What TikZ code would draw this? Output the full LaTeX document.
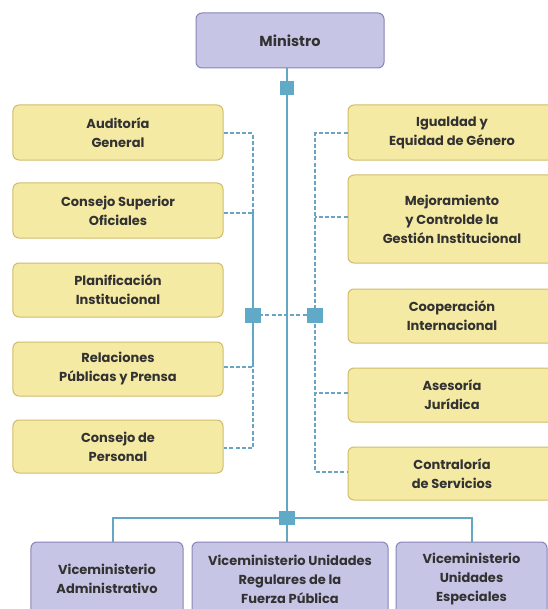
\documentclass[tikz,border=0pt]{standalone}
\usepackage{fontspec}
\newfontfamily\boxfont{Poppins Bold}
\definecolor{yfill}{RGB}{245,234,164}
\definecolor{ybord}{RGB}{208,188,105}
\definecolor{pfill}{RGB}{199,197,229}
\definecolor{pbord}{RGB}{136,131,184}
\definecolor{lnc}{RGB}{98,168,196}
\definecolor{dlnc}{RGB}{105,165,195}
\definecolor{sqc}{RGB}{96,170,200}
\definecolor{txt}{RGB}{50,50,50}
\begin{document}
\begin{tikzpicture}[x=1bp,y=-1bp,
  boxbase/.style={rounded corners=6bp, line width=1bp, align=center, text=txt, inner sep=0pt,
    font=\boxfont\fontsize{13bp}{19bp}\selectfont},
  ybox/.style={boxbase, draw=ybord, fill=yfill},
  pbox/.style={boxbase, draw=pbord, fill=pfill},
  solidln/.style={draw=lnc, line width=2.3bp},
  dashln/.style={draw=dlnc, line width=2.4bp, dash pattern=on 4bp off 2.2bp},
  sqbox/.style={fill=sqc, inner sep=0pt, minimum width=16bp, minimum height=15bp}]
\useasboundingbox (0,0) rectangle (548,609);
\clip (0,0) rectangle (548,609);
% top box
\node[pbox, minimum width=188bp, minimum height=55bp, font=\boxfont\fontsize{14.5bp}{19bp}\selectfont] (min) at (290,40.5) {Ministro};
% left boxes
\node[ybox, minimum width=210bp, minimum height=55bp] (aud) at (118,132.5) {Auditoría\\General};
\node[ybox, minimum width=210bp, minimum height=55bp] (csup) at (118,210.5) {Consejo Superior\\Oficiales};
\node[ybox, minimum width=210bp, minimum height=54bp] (plan) at (118,290) {Planificación\\Institucional};
\node[ybox, minimum width=210bp, minimum height=54bp] (rel) at (118,369) {Relaciones\\Públicas y Prensa};
\node[ybox, minimum width=210bp, minimum height=53bp] (cper) at (118,446.5) {Consejo de\\Personal};
% right boxes
\node[ybox, minimum width=208bp, minimum height=55bp] (igu) at (452,132.5) {Igualdad y\\Equidad de Género};
\node[ybox, minimum width=208bp, minimum height=88bp] (mej) at (452,219) {Mejoramiento\\y Controlde la\\Gestión Institucional};
\node[ybox, minimum width=208bp, minimum height=54bp] (coop) at (452,316) {Cooperación\\Internacional};
\node[ybox, minimum width=208bp, minimum height=54bp] (ases) at (452,395) {Asesoría\\Jurídica};
\node[ybox, minimum width=208bp, minimum height=53bp] (contr) at (452,473.5) {Contraloría\\de Servicios};
% bottom boxes
\node[pbox, minimum width=152bp, minimum height=74bp] (v1) at (107,579) {Viceministerio\\Administrativo};
\node[pbox, minimum width=196bp, minimum height=74bp] (v2) at (290,579) {Viceministerio Unidades\\Regulares de la\\Fuerza Pública};
\node[pbox, minimum width=151bp, minimum height=74bp] (v3) at (471.5,579) {Viceministerio\\Unidades\\Especiales};
% junction points
\coordinate (sqtc) at (287,88);
\coordinate (sqlc) at (253,315);
\coordinate (sqrc) at (315,315);
\coordinate (sqbc) at (287,518);
\coordinate (la) at (253,133);
\coordinate (lb) at (253,213);
\coordinate (lc) at (253,367);
\coordinate (ld) at (253,448);
\coordinate (ra) at (315,133);
\coordinate (rb) at (315,217);
\coordinate (rc) at (315,393);
\coordinate (rd) at (315,472);
\coordinate (bl) at (113,518);
\coordinate (br) at (472,518);
% connectors
\draw[solidln] (min.south -| sqtc) -- (sqtc) -- (sqbc) -- (v2.north -| sqbc);
\draw[solidln] (v1.north -| bl) -- (bl) -- (br) -- (v3.north -| br);
\draw[dashln] (aud.east |- la) -- (la) -- (lb);
\draw[dashln] (csup.east |- lb) -- (lb);
\draw[solidln] (lb) -- (lc);
\draw[dashln] (rel.east |- lc) -- (lc) -- (ld) -- (cper.east |- ld);
\draw[dashln] (igu.west |- ra) -- (ra) -- (rd) -- (contr.west |- rd);
\draw[dashln] (mej.west |- rb) -- (rb);
\draw[dashln] (ases.west |- rc) -- (rc);
\draw[dashln] (sqlc) -- (sqrc);
% squares
\node[sqbox, minimum width=14bp, minimum height=14bp] (sqt) at (sqtc) {};
\node[sqbox] (sql) at (sqlc) {};
\node[sqbox] (sqr) at (sqrc) {};
\node[sqbox, minimum height=14bp] (sqb) at (sqbc) {};
\end{tikzpicture}
\end{document}
